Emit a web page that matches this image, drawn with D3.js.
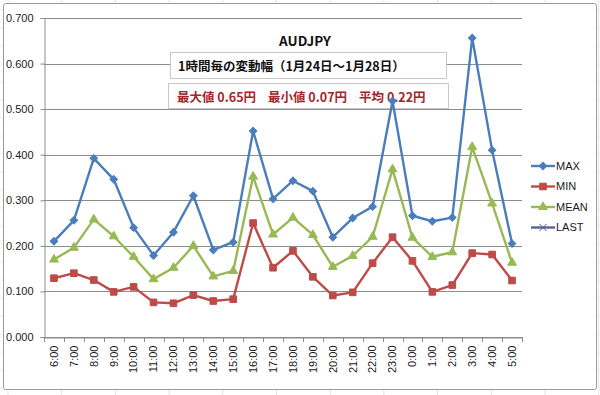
<!DOCTYPE html>
<html>
<head>
<meta charset="utf-8">
<script src="https://cdn.jsdelivr.net/npm/d3@7"></script>
<style>
  html, body { margin: 0; padding: 0; background: #fff; }
  svg { display: block; }
</style>
</head>
<body>
<svg class="chart" width="600" height="395"></svg>
<script>
// hourly categories (Tokyo time)
const categories = ["6:00","7:00","8:00","9:00","10:00","11:00","12:00","13:00","14:00","15:00",
  "16:00","17:00","18:00","19:00","20:00","21:00","22:00","23:00","0:00","1:00","2:00","3:00","4:00","5:00"];

// series values
const maxValues  = [0.210,0.256,0.392,0.346,0.240,0.179,0.230,0.310,0.191,0.208,
  0.452,0.303,0.343,0.320,0.219,0.261,0.286,0.518,0.266,0.254,0.262,0.656,0.410,0.205];
const minValues  = [0.129,0.140,0.125,0.099,0.110,0.076,0.074,0.092,0.079,0.083,
  0.250,0.152,0.189,0.132,0.091,0.098,0.162,0.219,0.167,0.099,0.114,0.184,0.181,0.124];
const meanValues = [0.170,0.196,0.258,0.221,0.176,0.127,0.152,0.200,0.133,0.145,
  0.352,0.225,0.262,0.224,0.154,0.178,0.220,0.368,0.218,0.176,0.186,0.417,0.293,0.163];
const lastValues = [];

const yTicks = [0, 0.1, 0.2, 0.3, 0.4, 0.5, 0.6, 0.7];

const seriesNames = ["MAX", "MIN", "MEAN", "LAST"];

const titleText = "AUDJPY";
const subtitleText = "1時間毎の変動幅（1月24日～1月28日）";
const statsParts = ["最大値 0.65円", "最小値 0.07円", "平均 0.22円"];

function draw(){

  const svg = d3.select('svg.chart');
  const jpFont = '"Noto Sans CJK JP", "Noto Sans", sans-serif';
  const numFont = '"Liberation Sans", Arial, sans-serif';

  // plot area
  const plot = {left: 44, right: 522, top: 18, bottom: 337};

  const x = d3.scaleBand()
              .domain(categories)
              .range([plot.left, plot.right]);
  const y = d3.scaleLinear()
              .domain([0, 0.7])
              .range([plot.bottom, plot.top]);
  const cx = c => x(c) + x.bandwidth() / 2;

  const series = [
    {name: seriesNames[0], values: maxValues,  color: '#4a7ebb', symbol: d3.symbolSquare,   size: 28, rot: 45},
    {name: seriesNames[1], values: minValues,  color: '#be4b48', symbol: d3.symbolSquare,   size: 44, rot: 0},
    {name: seriesNames[2], values: meanValues, color: '#98b954', symbol: d3.symbolTriangle, size: 34, rot: 0},
    {name: seriesNames[3], values: lastValues, color: '#5a5f94', symbol: d3.symbolTimes,    size: 36, rot: 0}
  ];

  // faint spreadsheet cells behind the chart
  const cellGrp = svg.append('g').attr('class', 'cells');
  d3.range(8, 600, 53.7).forEach(v => {
    cellGrp.append('line')
      .attr('x1', v).attr('x2', v).attr('y1', 0).attr('y2', 395)
      .style('stroke', '#e4e4e4').style('stroke-width', 1);
  });
  d3.range(10, 395, 18).forEach(v => {
    cellGrp.append('line')
      .attr('x1', 0).attr('x2', 600).attr('y1', v).attr('y2', v)
      .style('stroke', '#ececec').style('stroke-width', 1);
  });

  // chart frame
  svg.append('rect')
    .attr('x', 3.5).attr('y', 3.5)
    .attr('width', 593).attr('height', 386)
    .attr('rx', 2)
    .style('fill', '#fff')
    .style('stroke', '#9a9a9a')
    .style('stroke-width', 1);

  // gridlines
  svg.append('g').attr('class', 'grid')
    .selectAll('line')
    .data(yTicks)
    .enter()
    .append('line')
    .attr('x1', plot.left).attr('x2', plot.right)
    .attr('y1', d => Math.round(y(d)) + 0.5)
    .attr('y2', d => Math.round(y(d)) + 0.5)
    .style('stroke', '#8c8c8c')
    .style('stroke-width', 1);

  // y axis
  const yAxis = svg.append('g')
    .attr('transform', `translate(${plot.left + 0.5},0)`)
    .call(d3.axisLeft(y).tickValues(yTicks).tickFormat(d3.format('.3f')).tickSize(4).tickPadding(7));
  yAxis.select('.domain').style('stroke', '#8c8c8c');
  yAxis.selectAll('.tick line').style('stroke', '#8c8c8c');
  yAxis.selectAll('.tick text')
    .style('font-family', numFont)
    .style('font-size', '11px')
    .style('fill', '#1a1a1a');

  // x axis
  const xAxis = svg.append('g')
    .attr('transform', `translate(0,${Math.round(plot.bottom) + 0.5})`)
    .call(d3.axisBottom(x).tickSize(0).tickPadding(0));
  xAxis.select('.domain').style('stroke', '#8c8c8c');
  xAxis.selectAll('.tick text')
    .attr('transform', 'rotate(-90)')
    .attr('x', -8)
    .attr('y', 0)
    .attr('dy', '0.35em')
    .style('text-anchor', 'end')
    .style('font-family', numFont)
    .style('font-size', '11px')
    .style('fill', '#1a1a1a');

  // tick marks between categories
  svg.append('g').attr('class', 'xticks')
    .selectAll('line')
    .data(d3.range(categories.length + 1))
    .enter()
    .append('line')
    .attr('x1', i => Math.round(plot.left + i * x.step()) + 0.5)
    .attr('x2', i => Math.round(plot.left + i * x.step()) + 0.5)
    .attr('y1', plot.bottom)
    .attr('y2', plot.bottom + 5)
    .style('stroke', '#8c8c8c');

  // title
  svg.append('text')
    .attr('x', 305).attr('y', 46)
    .attr('text-anchor', 'middle')
    .style('font-family', jpFont)
    .style('font-weight', 'bold')
    .style('font-size', '13.5px')
    .style('fill', '#111')
    .text(titleText);

  // text boxes
  const boxes = [
    {x: 170, y: 52.5, w: 276, h: 26, parts: [subtitleText], color: '#111', tx: 178, ty: 71, gap: 0},
    {x: 168, y: 83.5, w: 280, h: 25, parts: statsParts, color: '#a3262b', tx: 177, ty: 102, gap: 12}
  ];
  boxes.forEach(b => {
    svg.append('rect')
      .attr('x', b.x + 0.5).attr('y', b.y)
      .attr('width', b.w).attr('height', b.h)
      .style('fill', '#fff')
      .style('stroke', '#c9c9c9');
    const t = svg.append('text')
      .attr('x', b.tx).attr('y', b.ty)
      .style('font-family', jpFont)
      .style('font-weight', 'bold')
      .style('font-size', '12.5px')
      .style('fill', b.color);
    t.selectAll('tspan')
      .data(b.parts)
      .enter()
      .append('tspan')
      .attr('dx', (d, i) => i === 0 ? 0 : b.gap)
      .text(d => d);
  });

  // series lines and markers
  const line = d3.line()
    .x((d, i) => cx(categories[i]))
    .y(d => y(d));

  series.forEach(s => {
    const g = svg.append('g').attr('class', 'series');
    g.append('path')
      .datum(s.values)
      .attr('d', line)
      .style('fill', 'none')
      .style('stroke', s.color)
      .style('stroke-width', 2.4)
      .style('stroke-linejoin', 'round');
    g.selectAll('path.marker')
      .data(s.values)
      .enter()
      .append('path')
      .attr('class', 'marker')
      .attr('d', d3.symbol().type(s.symbol).size(s.size))
      .attr('transform', (d, i) => `translate(${cx(categories[i])},${y(d)}) rotate(${s.rot})`)
      .style('fill', s.color)
      .style('stroke', s.color)
      .style('stroke-width', 1);
  });

  // legend
  const legend = svg.append('g').attr('class', 'legend');
  series.forEach((s, i) => {
    const ly = 166 + i * 20.5;
    legend.append('line')
      .attr('x1', 531).attr('x2', 555)
      .attr('y1', ly).attr('y2', ly)
      .style('stroke', s.color)
      .style('stroke-width', 2.4);
    legend.append('path')
      .attr('d', d3.symbol().type(s.symbol).size(s.size))
      .attr('transform', `translate(543,${ly}) rotate(${s.rot})`)
      .style('fill', s.color)
      .style('stroke', s.color)
      .style('stroke-width', 1);
    legend.append('text')
      .attr('x', 556).attr('y', ly)
      .attr('dy', '0.36em')
      .style('font-family', numFont)
      .style('font-size', '11px')
      .style('fill', '#1a1a1a')
      .text(s.name);
  });
}

draw();
</script>
</body>
</html>
